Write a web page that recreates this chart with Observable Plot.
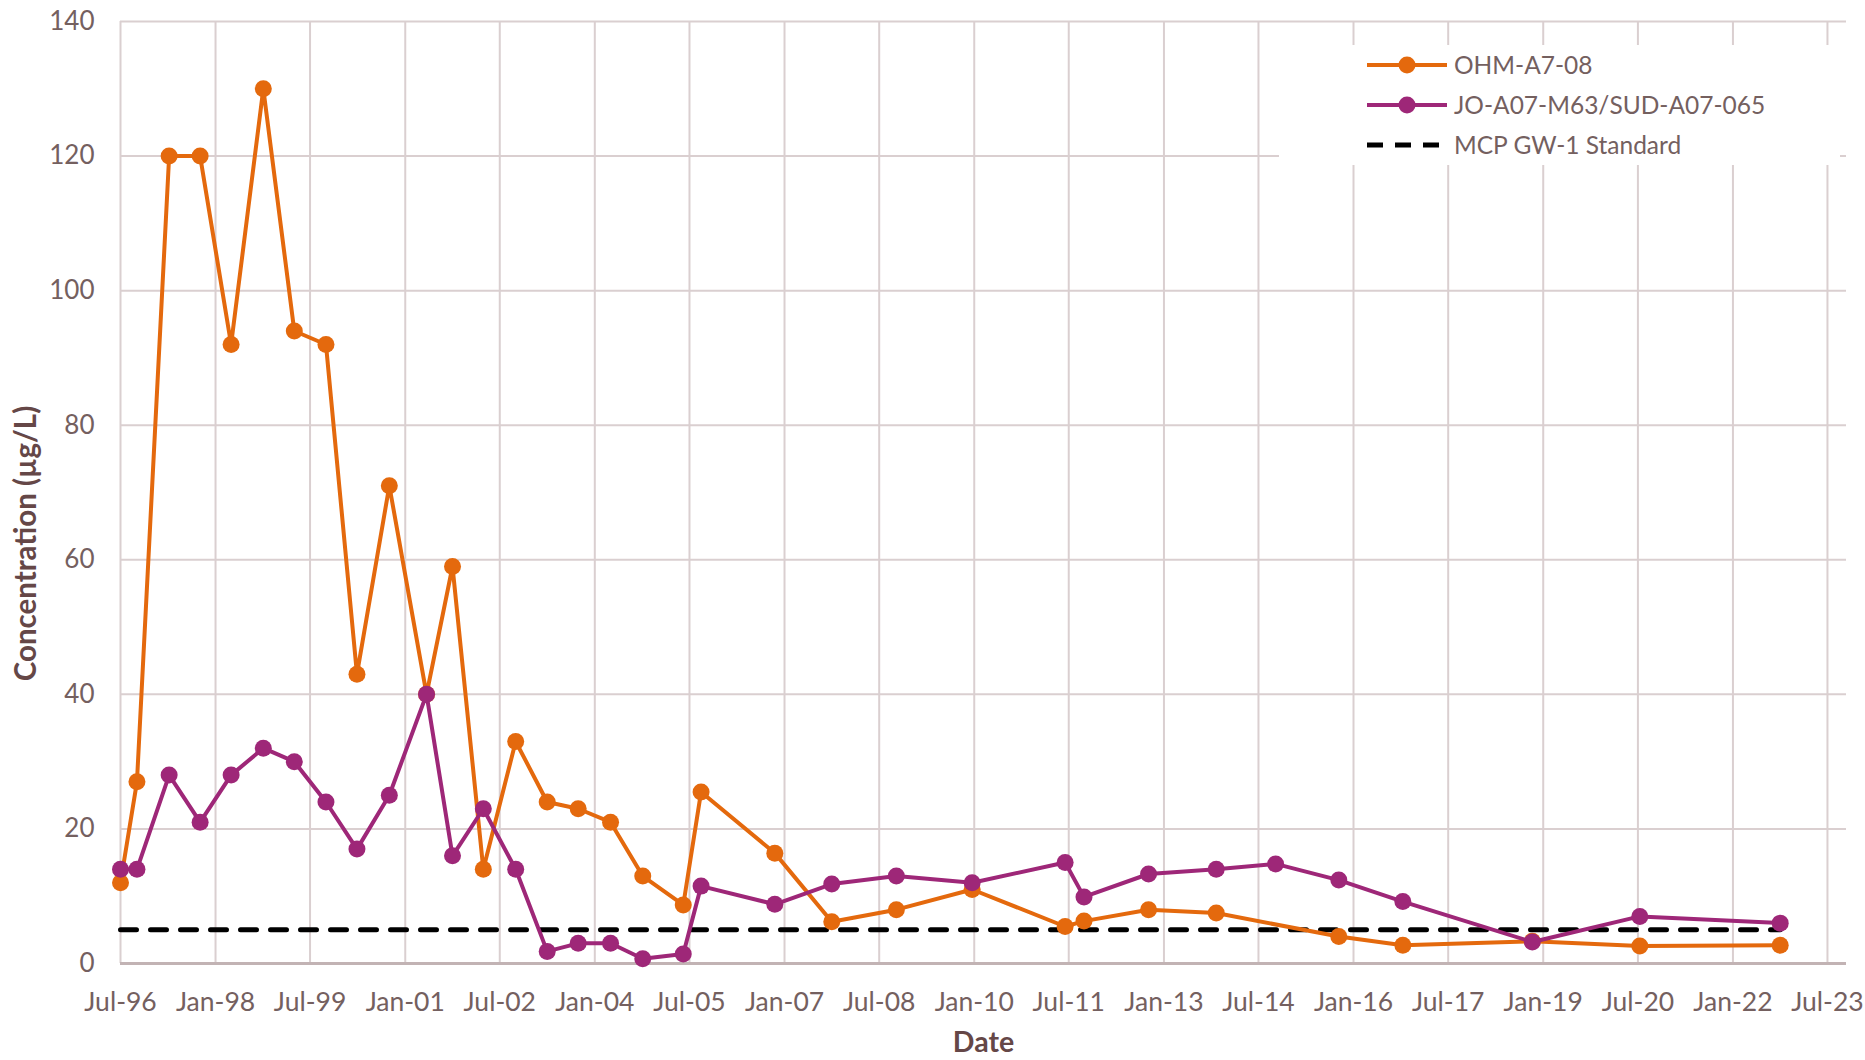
<!DOCTYPE html>
<html>
<head>
<meta charset="utf-8">
<script src="https://cdn.jsdelivr.net/npm/d3@7"></script>
<script src="https://cdn.jsdelivr.net/npm/@observablehq/plot@0.6"></script>
<style>
  html, body { margin: 0; padding: 0; background: #fff; }
  #wrap { position: relative; width: 1865px; height: 1060px; overflow: hidden; font-family: Lato, sans-serif; }
  #legend { position: absolute; left: 1279px; top: 45px; width: 561px; height: 120px; background: #fff; }
  .row { position: absolute; left: 0; height: 40px; display: flex; align-items: center; }
  .row svg { position: absolute; left: 87px; }
  .row span { position: absolute; left: 175px; font-size: 24.5px; color: #74605f; white-space: nowrap; line-height: 40px; }
</style>
</head>
<body>
<div id="wrap"></div>
<script>
// ---- data ----
const xTickLabels = ["Jul-96","Jan-98","Jul-99","Jan-01","Jul-02","Jan-04","Jul-05","Jan-07","Jul-08","Jan-10","Jul-11","Jan-13","Jul-14","Jan-16","Jul-17","Jan-19","Jul-20","Jan-22","Jul-23"];
const yTicks = [0, 20, 40, 60, 80, 100, 120, 140];

const seriesNames = ["OHM-A7-08", "JO-A07-M63/SUD-A07-065", "MCP GW-1 Standard"];

const ohmDates = ["1996-07-01","1996-10-04","1997-04-08","1997-10-04","1998-04-01","1998-10-04","1999-04-01","1999-10-01","2000-03-28","2000-10-01","2001-05-04","2001-10-01","2002-03-28","2002-10-01","2003-04-01","2003-09-27","2004-04-01","2004-10-04","2005-05-26","2005-09-06","2006-11-06","2007-10-01","2008-10-08","2009-12-20","2011-06-10","2011-09-27","2012-10-04","2013-10-30","2015-10-08","2016-10-12","2018-10-30","2020-07-12","2022-10-01"];
const ohmValues = [12, 27, 120, 120, 92, 130, 94, 92, 43, 71, 40, 59, 14, 33, 24, 23, 21, 13, 8.7, 25.5, 16.4, 6.2, 8, 11, 5.5, 6.3, 8, 7.5, 4, 2.7, 3.3, 2.6, 2.7];

const joDates = ["1996-07-01","1996-10-04","1997-04-08","1997-10-04","1998-04-01","1998-10-04","1999-04-01","1999-10-01","2000-03-28","2000-10-01","2001-05-04","2001-10-01","2002-03-28","2002-10-01","2003-04-01","2003-09-27","2004-04-01","2004-10-04","2005-05-26","2005-09-06","2006-11-06","2007-10-01","2008-10-08","2009-12-20","2011-06-10","2011-09-27","2012-10-04","2013-10-30","2014-10-08","2015-10-08","2016-10-12","2018-10-30","2020-07-12","2022-10-01"];
const joValues = [14, 14, 28, 21, 28, 32, 30, 24, 17, 25, 40, 16, 23, 14, 1.8, 3, 3, 0.7, 1.4, 11.5, 8.8, 11.8, 13, 12, 15, 9.9, 13.3, 14, 14.8, 12.4, 9.2, 3.2, 7, 6];

const stdDates = ["1996-07-01", "2022-10-01"];
const stdValues = [5, 5];

// ---- build tables ----
const parseTick = d3.utcParse("%b-%y");
const xTickDates = xTickLabels.map(parseTick);
const ohm = ohmDates.map((d, i) => ({date: new Date(d), value: ohmValues[i]}));
const jo = joDates.map((d, i) => ({date: new Date(d), value: joValues[i]}));
const std = stdDates.map((d, i) => ({date: new Date(d), value: stdValues[i]}));

const ORANGE = "#e4690d";
const PURPLE = "#9e2778";
const GRID = "#dacfd0";
const TITLE = "#654747";

const chart = Plot.plot({
  width: 1865,
  height: 1060,
  marginLeft: 120,
  marginRight: 19,
  marginTop: 21,
  marginBottom: 97,
  style: {fontFamily: "Lato, sans-serif", fontSize: "26px", color: "#74605f", background: "#fff"},
  x: {type: "utc", domain: [new Date("1996-07-01"), new Date("2023-10-19")]},
  y: {domain: [0, 140]},
  marks: [
    Plot.ruleY(yTicks, {stroke: GRID, strokeWidth: 2}),
    Plot.ruleX(xTickDates, {stroke: GRID, strokeWidth: 2}),
    Plot.ruleY([0], {stroke: "#c2b3b4", strokeWidth: 3}),
    Plot.axisY({ticks: yTicks, tickSize: 0, tickPadding: 26, label: null, fontSize: 26}),
    Plot.axisX({ticks: xTickDates, tickSize: 0, tickPadding: 29, tickFormat: d3.utcFormat("%b-%y"), label: null, fontSize: 26.5}),
    Plot.lineY(std, {x: "date", y: "value", stroke: "#000", strokeWidth: 5, strokeDasharray: "16,14"}),
    Plot.lineY(ohm, {x: "date", y: "value", stroke: ORANGE, strokeWidth: 4, strokeLinejoin: "round"}),
    Plot.dot(ohm, {x: "date", y: "value", r: 8.5, fill: ORANGE, stroke: "none"}),
    Plot.lineY(jo, {x: "date", y: "value", stroke: PURPLE, strokeWidth: 4, strokeLinejoin: "round"}),
    Plot.dot(jo, {x: "date", y: "value", r: 8.5, fill: PURPLE, stroke: "none"}),
    Plot.text(["Concentration (µg/L)"], {text: d => d, frameAnchor: "left", textAnchor: "middle", dx: -94, dy: 51, rotate: -90, fontWeight: "bold", fill: TITLE, fontSize: 29.5}),
    Plot.text(["Date"], {text: d => d, frameAnchor: "bottom", textAnchor: "middle", dy: 88, fontWeight: "bold", fill: TITLE, fontSize: 28.5})
  ]
});

const wrap = document.getElementById("wrap");
wrap.appendChild(chart);

// ---- legend overlay ----
const legend = document.createElement("div");
legend.id = "legend";
const styles = [
  {color: ORANGE, dash: null, dot: true},
  {color: PURPLE, dash: null, dot: true},
  {color: "#000", dash: "16,12", dot: false}
];
seriesNames.forEach((name, i) => {
  const row = document.createElement("div");
  row.className = "row";
  row.style.top = (i * 40) + "px";
  const s = styles[i];
  const svgNS = "http://www.w3.org/2000/svg";
  const svg = document.createElementNS(svgNS, "svg");
  svg.setAttribute("width", "82");
  svg.setAttribute("height", "40");
  const line = document.createElementNS(svgNS, "line");
  line.setAttribute("x1", "1"); line.setAttribute("x2", "81");
  line.setAttribute("y1", "20"); line.setAttribute("y2", "20");
  line.setAttribute("stroke", s.color);
  line.setAttribute("stroke-width", s.dot ? "4" : "5");
  if (s.dash) line.setAttribute("stroke-dasharray", s.dash);
  svg.appendChild(line);
  if (s.dot) {
    const c = document.createElementNS(svgNS, "circle");
    c.setAttribute("cx", "41"); c.setAttribute("cy", "20"); c.setAttribute("r", "8.5");
    c.setAttribute("fill", s.color);
    svg.appendChild(c);
  }
  row.appendChild(svg);
  const span = document.createElement("span");
  span.textContent = name;
  row.appendChild(span);
  legend.appendChild(row);
});
wrap.appendChild(legend);
</script>
</body>
</html>
